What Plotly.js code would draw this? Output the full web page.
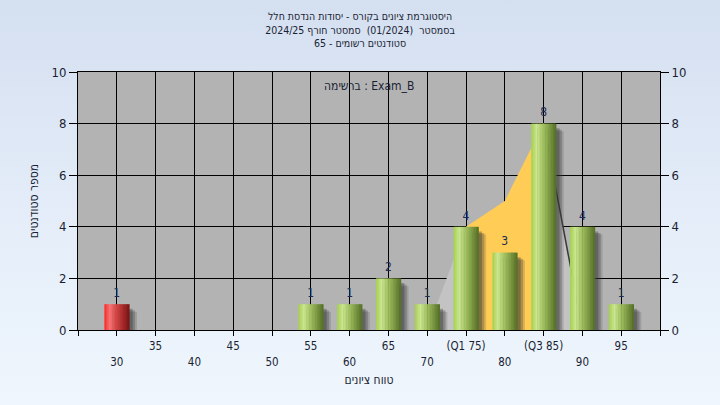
<!DOCTYPE html>
<html><head><meta charset="utf-8">
<script src="https://cdn.plot.ly/plotly-3.0.1.min.js"></script>
<style>
html,body{margin:0;padding:0;width:720px;height:405px;overflow:hidden;background:linear-gradient(to bottom,#d4dff0 0%,#e3ecf8 50%,#eff6fd 100%);}
#chart{width:720px;height:405px;}
</style>
</head><body><div id="chart"></div>
<script>
// ---- data ----
const grades = [30, 55, 60, 65, 70, 75, 80, 85, 90, 95];
const counts = [1, 1, 1, 2, 1, 4, 3, 8, 4, 1];
const passGrade = 55;
const boxX = [70, 75, 80, 85, 90];
const boxY = [0, 4, 5, 8, 0];
const q1 = 75, q3 = 85;
const gridVals = [25, 30, 35, 40, 45, 50, 55, 60, 65, 70, 75, 80, 85, 90, 95, 100];
const upperTickVals = [35, 45, 55, 65, 75, 85, 95];
const upperTickText = ['35', '45', '55', '65', '(Q1 75)', '(Q3 85)', '95'];
const lowerTickVals = [30, 40, 50, 60, 70, 80, 90];
const lowerTickText = ['30', '40', '50', '60', '70', '80', '90'];
const yTicks = [0, 2, 4, 6, 8, 10];
const titleLines = ['היסטוגרמת ציונים בקורס - יסודות הנדסת חלל', 'בסמסטר  (01/2024)  סמסטר חורף 2024/25', 'סטודנטים רשומים - 65'];
const listText = 'ברשימה : Exam_B';
const xTitle = 'טווח ציונים';
const yTitle = 'מספר סטודנטים';

// ---- helpers ----
const FONT = '"Liberation Sans Narrow", "DejaVu Sans Condensed", "Liberation Sans", sans-serif';
const TXT = '#1a1f33';

function hex2rgb(h){return [parseInt(h.slice(1,3),16),parseInt(h.slice(3,5),16),parseInt(h.slice(5,7),16)];}
function grad(stops, t){
  for(let i=0;i<stops.length-1;i++){
    const [p0,c0]=stops[i],[p1,c1]=stops[i+1];
    if(t>=p0&&t<=p1){
      const f=(t-p0)/(p1-p0),a=hex2rgb(c0),b=hex2rgb(c1);
      return 'rgb('+a.map((v,k)=>Math.round(v+(b[k]-v)*f)).join(',')+')';
    }
  }
  return stops[stops.length-1][1];
}
const greenStops=[[0,'#a3d04a'],[0.22,'#cbe690'],[0.4,'#aecd6e'],[0.65,'#8aa84c'],[1,'#536e26']];
const redStops=[[0,'#ff2424'],[0.22,'#f57474'],[0.45,'#d84848'],[0.75,'#a82828'],[1,'#751414']];

const barW = 3.2, N = 16, sw = barW/N;
const traces = [];

// quartile polygon on base subplot
const iq1 = boxX.indexOf(q1), iq3 = boxX.indexOf(q3);
const leftX = boxX.slice(0, iq1+1).concat([q1]);
const leftY = boxY.slice(0, iq1+1).concat([0]);
const midX = [q1].concat(boxX.slice(iq1, iq3+1)).concat([q3]);
const midY = [0].concat(boxY.slice(iq1, iq3+1)).concat([0]);
const rightX = [q3].concat(boxX.slice(iq3));
const rightY = [0].concat(boxY.slice(iq3));
traces.push({x:leftX,y:leftY,type:'scatter',mode:'lines',fill:'toself',fillcolor:'#c3c3c3',line:{width:0},hoverinfo:'skip',xaxis:'x',yaxis:'y'});
traces.push({x:rightX,y:rightY,type:'scatter',mode:'lines',fill:'toself',fillcolor:'#c3c3c3',line:{width:0},hoverinfo:'skip',xaxis:'x',yaxis:'y'});
traces.push({x:midX,y:midY,type:'scatter',mode:'lines',fill:'toself',fillcolor:'#ffcc55',line:{width:0},hoverinfo:'skip',xaxis:'x',yaxis:'y'});
traces.push({x:boxX.slice(iq3),y:boxY.slice(iq3),type:'scatter',mode:'lines',line:{color:'#3a3a3a',width:1.5},hoverinfo:'skip',xaxis:'x',yaxis:'y'});

// shadows
traces.push({x:grades,y:counts.map(v=>Math.max(v-0.3,0)),type:'bar',width:barW,offset:-barW/2+1.0,marker:{color:'rgba(60,60,60,0.18)',line:{width:0}},hoverinfo:'skip',xaxis:'x2',yaxis:'y2'});
traces.push({x:grades,y:counts.map(v=>Math.max(v-0.24,0)),type:'bar',width:barW,offset:-barW/2+0.75,marker:{color:'rgba(60,60,60,0.3)',line:{width:0}},hoverinfo:'skip',xaxis:'x2',yaxis:'y2'});
traces.push({x:grades,y:counts.map(v=>Math.max(v-0.18,0)),type:'bar',width:barW,offset:-barW/2+0.45,marker:{color:'rgba(50,50,50,0.35)',line:{width:0}},hoverinfo:'skip',xaxis:'x2',yaxis:'y2'});

// gradient bars as strips
for(let i=0;i<N;i++){
  const t=(i+0.5)/N;
  traces.push({
    x:grades,y:counts,type:'bar',width:sw*1.25,offset:-barW/2+i*sw,
    marker:{color:grades.map(g=>g<passGrade?grad(redStops,t):grad(greenStops,t)),line:{width:0}},
    hoverinfo:'skip',xaxis:'x2',yaxis:'y2'
  });
}
// value labels
traces.push({x:grades,y:counts,type:'scatter',mode:'markers+text',text:counts.map(String),textposition:'top center',
  marker:{size:5,opacity:0},
  textfont:{family:FONT,size:12,color:'#1c2a55'},hoverinfo:'skip',cliponaxis:false,xaxis:'x2',yaxis:'y2'});

const layout = {
  width:720,height:405,
  paper_bgcolor:'rgba(0,0,0,0)',plot_bgcolor:'#b3b3b3',
  margin:{l:78,r:60,t:72,b:75,pad:0},
  showlegend:false,barmode:'overlay',
  font:{family:FONT,color:TXT,size:12},
  title:{text:titleLines.join('<br>'),x:0.5,xanchor:'center',y:1-20/405,yanchor:'top',yref:'container',
    font:{family:FONT,size:10.5,color:TXT}},
  xaxis:{range:[25,100],tickmode:'array',tickvals:gridVals,
    ticktext:gridVals.map(v=>{const k=upperTickVals.indexOf(v);return k>=0?upperTickText[k]:'';}),
    ticks:'outside',ticklen:5,tickcolor:'#000',tickwidth:1,
    showgrid:true,gridcolor:'#000',gridwidth:1,showline:true,mirror:true,linecolor:'#000',linewidth:1,zeroline:false,
    tickfont:{family:FONT,size:11.5,color:TXT},fixedrange:true},
  xaxis2:{range:[25,100],overlaying:'x',anchor:'y2',side:'bottom',tickmode:'array',tickvals:lowerTickVals,ticktext:lowerTickText,
    ticks:'',showgrid:false,showline:false,zeroline:false,ticklabelstandoff:23,
    tickfont:{family:FONT,size:11.5,color:TXT},
    title:{text:xTitle,font:{family:FONT,size:12,color:TXT},standoff:8}},
  yaxis:{range:[0,10],tickmode:'array',tickvals:yTicks,ticks:'outside',ticklen:8,tickcolor:'#000',
    showgrid:true,gridcolor:'#000',gridwidth:1,showline:true,mirror:true,linecolor:'#000',linewidth:1,zeroline:false,
    tickfont:{family:FONT,size:13,color:TXT},
    title:{text:yTitle,font:{family:FONT,size:12,color:TXT},standoff:10}},
  yaxis2:{range:[0,10],overlaying:'y',side:'right',anchor:'x2',tickmode:'array',tickvals:yTicks,ticks:'outside',ticklen:8,tickcolor:'#000',
    showgrid:false,showline:false,zeroline:false,tickfont:{family:FONT,size:13,color:TXT}},
  annotations:[{text:listText,xref:'paper',yref:'paper',x:0.5,y:1-14/258,xanchor:'center',yanchor:'middle',showarrow:false,
    font:{family:FONT,size:12,color:TXT}}]
};
Plotly.newPlot('chart',traces,layout,{displayModeBar:false,staticPlot:true});
</script>
</body></html>
